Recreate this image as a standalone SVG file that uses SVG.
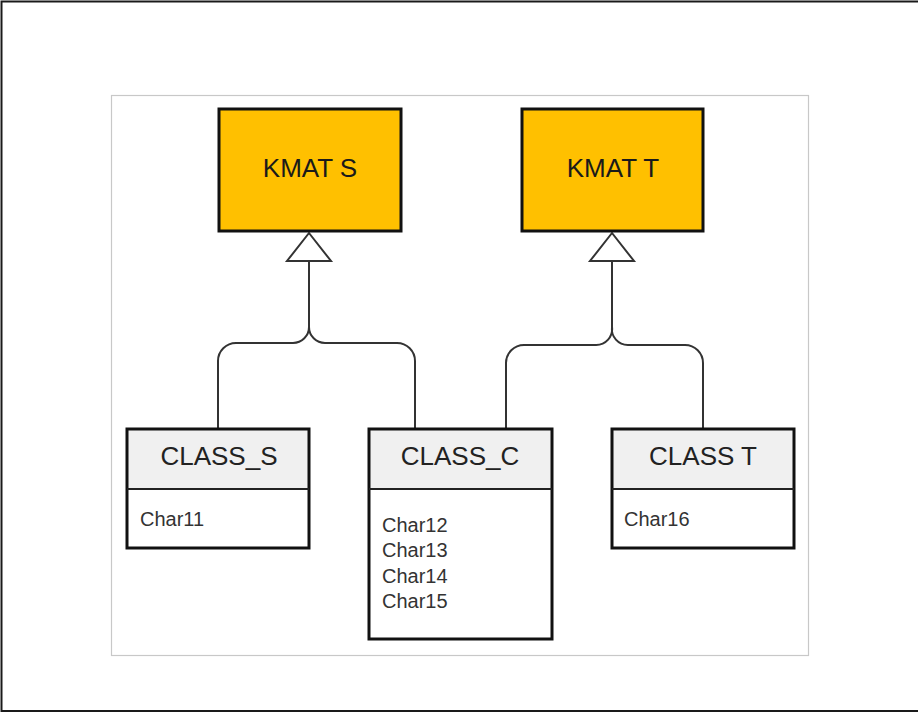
<svg xmlns="http://www.w3.org/2000/svg" width="918" height="713" viewBox="0 0 918 713">
  <style>
    .frame { fill: none; stroke: #1a1a1a; stroke-width: 2; }
    .canvas { fill: #ffffff; stroke: #c8c8c8; stroke-width: 1.2; }
    .kmat { fill: #ffc000; stroke: #111; stroke-width: 3; }
    .kmat-label { font-family: "Liberation Sans", Arial, sans-serif; font-size: 26px; fill: #1a1a1a; text-anchor: middle; }
    .cls-head { fill: #f0f0f0; stroke: none; }
    .cls-body { fill: #ffffff; stroke: none; }
    .cls-box { fill: none; stroke: #111; stroke-width: 3; }
    .cls-div { stroke: #222; stroke-width: 2; }
    .cls-title { font-family: "Liberation Sans", Arial, sans-serif; font-size: 26px; fill: #222; text-anchor: middle; }
    .attr { font-family: "Liberation Sans", Arial, sans-serif; font-size: 20px; fill: #333; }
    .link { fill: none; stroke: #333; stroke-width: 2; }
    .gen { fill: #ffffff; stroke: #333; stroke-width: 2; stroke-linejoin: miter; }
  </style>

  <rect width="918" height="713" fill="#ffffff"/>
  <path class="frame" d="M918,1.5 H1.5 V711 H918"/>
  <rect class="canvas" x="111.5" y="95.5" width="697" height="560"/>

  <!-- generalisation connectors -->
  <g id="connectors">
    <path class="link" d="M309,261 V327 A16,16 0 0 1 293,343 H236 A18,18 0 0 0 218,361 V428"/>
    <path class="link" d="M309,327 A16,16 0 0 0 325,343 H397 A18,18 0 0 1 415,361 V428"/>
    <polygon class="gen" points="309,233 287,261 331,261"/>

    <path class="link" d="M612,261 V327 A16,16 0 0 1 596,345 H524 A18,18 0 0 0 506,363 V428"/>
    <path class="link" d="M612,327 A16,16 0 0 0 628,345 H685 A18,18 0 0 1 703,363 V428"/>
    <polygon class="gen" points="612,233 590,261 634,261"/>
  </g>

  <g id="kmat-s">
    <rect class="kmat" x="219" y="109" width="182" height="122"/>
    <text class="kmat-label" x="310" y="177">KMAT S</text>
  </g>

  <g id="kmat-t">
    <rect class="kmat" x="522" y="109" width="181" height="122"/>
    <text class="kmat-label" x="613" y="177">KMAT T</text>
  </g>

  <g id="class-s">
    <rect class="cls-head" x="127" y="429" width="182" height="60"/>
    <rect class="cls-body" x="127" y="489" width="182" height="59"/>
    <rect class="cls-box" x="127" y="429" width="182" height="119"/>
    <line class="cls-div" x1="127" y1="489" x2="309" y2="489"/>
    <text class="cls-title" x="219" y="465">CLASS_S</text>
    <text class="attr" x="140" y="526">Char11</text>
  </g>

  <g id="class-c">
    <rect class="cls-head" x="369" y="429" width="183" height="60"/>
    <rect class="cls-body" x="369" y="489" width="183" height="150"/>
    <rect class="cls-box" x="369" y="429" width="183" height="210"/>
    <line class="cls-div" x1="369" y1="489" x2="552" y2="489"/>
    <text class="cls-title" x="460" y="465">CLASS_C</text>
    <text class="attr" x="382" y="532">Char12</text>
    <text class="attr" x="382" y="557">Char13</text>
    <text class="attr" x="382" y="583">Char14</text>
    <text class="attr" x="382" y="608">Char15</text>
  </g>

  <g id="class-t">
    <rect class="cls-head" x="612" y="429" width="182" height="60"/>
    <rect class="cls-body" x="612" y="489" width="182" height="59"/>
    <rect class="cls-box" x="612" y="429" width="182" height="119"/>
    <line class="cls-div" x1="612" y1="489" x2="794" y2="489"/>
    <text class="cls-title" x="703" y="465">CLASS T</text>
    <text class="attr" x="624" y="526">Char16</text>
  </g>
</svg>
